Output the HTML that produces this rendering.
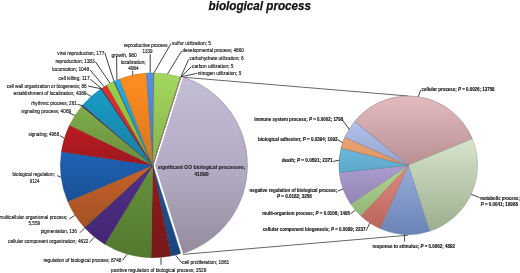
<!DOCTYPE html>
<html><head><meta charset="utf-8"><style>
html,body{margin:0;padding:0;background:#fff;}
svg{display:block;filter:blur(0.35px);}
text{font-family:"Liberation Sans",sans-serif;}
</style></head><body>
<svg width="520" height="273" viewBox="0 0 520 273">
<defs>
<linearGradient id="g0" x1="0" y1="0" x2="0" y2="1"><stop offset="0" stop-color="#215597"/><stop offset="1" stop-color="#1b467b"/></linearGradient>
<linearGradient id="g1" x1="0" y1="0" x2="0" y2="1"><stop offset="0" stop-color="#911d1e"/><stop offset="1" stop-color="#761819"/></linearGradient>
<linearGradient id="g2" x1="0" y1="0" x2="0" y2="1"><stop offset="0" stop-color="#66933a"/><stop offset="1" stop-color="#537830"/></linearGradient>
<linearGradient id="g3" x1="0" y1="0" x2="0" y2="1"><stop offset="0" stop-color="#522e8c"/><stop offset="1" stop-color="#432672"/></linearGradient>
<linearGradient id="g4" x1="0" y1="0" x2="0" y2="1"><stop offset="0" stop-color="#274552"/><stop offset="1" stop-color="#203843"/></linearGradient>
<linearGradient id="g5" x1="0" y1="0" x2="0" y2="1"><stop offset="0" stop-color="#c7632b"/><stop offset="1" stop-color="#a25123"/></linearGradient>
<linearGradient id="g6" x1="0" y1="0" x2="0" y2="1"><stop offset="0" stop-color="#1e62b5"/><stop offset="1" stop-color="#195094"/></linearGradient>
<linearGradient id="g7" x1="0" y1="0" x2="0" y2="1"><stop offset="0" stop-color="#be1c23"/><stop offset="1" stop-color="#9b171c"/></linearGradient>
<linearGradient id="g8" x1="0" y1="0" x2="0" y2="1"><stop offset="0" stop-color="#7fad49"/><stop offset="1" stop-color="#688d3c"/></linearGradient>
<linearGradient id="g9" x1="0" y1="0" x2="0" y2="1"><stop offset="0" stop-color="#413063"/><stop offset="1" stop-color="#352751"/></linearGradient>
<linearGradient id="g10" x1="0" y1="0" x2="0" y2="1"><stop offset="0" stop-color="#1a9cc7"/><stop offset="1" stop-color="#157fa2"/></linearGradient>
<linearGradient id="g11" x1="0" y1="0" x2="0" y2="1"><stop offset="0" stop-color="#724523"/><stop offset="1" stop-color="#5d381c"/></linearGradient>
<linearGradient id="g12" x1="0" y1="0" x2="0" y2="1"><stop offset="0" stop-color="#2d5079"/><stop offset="1" stop-color="#254163"/></linearGradient>
<linearGradient id="g13" x1="0" y1="0" x2="0" y2="1"><stop offset="0" stop-color="#e52d34"/><stop offset="1" stop-color="#bb252a"/></linearGradient>
<linearGradient id="g14" x1="0" y1="0" x2="0" y2="1"><stop offset="0" stop-color="#98d644"/><stop offset="1" stop-color="#7cae37"/></linearGradient>
<linearGradient id="g15" x1="0" y1="0" x2="0" y2="1"><stop offset="0" stop-color="#61508a"/><stop offset="1" stop-color="#4f4171"/></linearGradient>
<linearGradient id="g16" x1="0" y1="0" x2="0" y2="1"><stop offset="0" stop-color="#25ade3"/><stop offset="1" stop-color="#1e8db9"/></linearGradient>
<linearGradient id="g17" x1="0" y1="0" x2="0" y2="1"><stop offset="0" stop-color="#ff8f21"/><stop offset="1" stop-color="#d8741b"/></linearGradient>
<linearGradient id="g18" x1="0" y1="0" x2="0" y2="1"><stop offset="0" stop-color="#5093e5"/><stop offset="1" stop-color="#4178bb"/></linearGradient>
<linearGradient id="g19" x1="0" y1="0" x2="0" y2="1"><stop offset="0" stop-color="#f24545"/><stop offset="1" stop-color="#c53838"/></linearGradient>
<linearGradient id="g20" x1="0" y1="0" x2="0" y2="1"><stop offset="0" stop-color="#a4d85f"/><stop offset="1" stop-color="#86b04d"/></linearGradient>
<linearGradient id="g21" x1="0" y1="0" x2="0" y2="1"><stop offset="0" stop-color="#ad9cd8"/><stop offset="1" stop-color="#8d7fb0"/></linearGradient>
<linearGradient id="g22" x1="0" y1="0" x2="0" y2="1"><stop offset="0" stop-color="#56bee9"/><stop offset="1" stop-color="#469bbe"/></linearGradient>
<linearGradient id="g23" x1="0" y1="0" x2="0" y2="1"><stop offset="0" stop-color="#ffad68"/><stop offset="1" stop-color="#da8d54"/></linearGradient>
<linearGradient id="lavg" x1="0" y1="0" x2="0" y2="1"><stop offset="0" stop-color="#c4bdd6"/><stop offset="0.55" stop-color="#b2aac2"/><stop offset="1" stop-color="#948c9c"/></linearGradient>
<linearGradient id="r0" gradientUnits="userSpaceOnUse" x1="0" y1="96.0" x2="0" y2="234.6"><stop offset="0" stop-color="#e4bcbf"/><stop offset="1" stop-color="#8c6467"/></linearGradient>
<linearGradient id="r1" gradientUnits="userSpaceOnUse" x1="0" y1="96.0" x2="0" y2="234.6"><stop offset="0" stop-color="#f2ffe5"/><stop offset="1" stop-color="#9aab8d"/></linearGradient>
<linearGradient id="r2" gradientUnits="userSpaceOnUse" x1="0" y1="96.0" x2="0" y2="234.6"><stop offset="0" stop-color="#c3daff"/><stop offset="1" stop-color="#6b82b6"/></linearGradient>
<linearGradient id="r3" gradientUnits="userSpaceOnUse" x1="0" y1="96.0" x2="0" y2="234.6"><stop offset="0" stop-color="#ffb8ae"/><stop offset="1" stop-color="#b86056"/></linearGradient>
<linearGradient id="r4" gradientUnits="userSpaceOnUse" x1="0" y1="96.0" x2="0" y2="234.6"><stop offset="0" stop-color="#deffc0"/><stop offset="1" stop-color="#86ab68"/></linearGradient>
<linearGradient id="r5" gradientUnits="userSpaceOnUse" x1="0" y1="96.0" x2="0" y2="234.6"><stop offset="0" stop-color="#d8c9fb"/><stop offset="1" stop-color="#8071a3"/></linearGradient>
<linearGradient id="r6" gradientUnits="userSpaceOnUse" x1="0" y1="96.0" x2="0" y2="234.6"><stop offset="0" stop-color="#8dd8fb"/><stop offset="1" stop-color="#3580a3"/></linearGradient>
<linearGradient id="r7" gradientUnits="userSpaceOnUse" x1="0" y1="96.0" x2="0" y2="234.6"><stop offset="0" stop-color="#ffbf8d"/><stop offset="1" stop-color="#b76735"/></linearGradient>
<linearGradient id="r8" gradientUnits="userSpaceOnUse" x1="0" y1="96.0" x2="0" y2="234.6"><stop offset="0" stop-color="#c2d1fc"/><stop offset="1" stop-color="#6a79a4"/></linearGradient>
</defs>
<rect width="520" height="273" fill="#fff"/>

<text x="208.6" y="9.8" font-size="13.2" font-weight="bold" font-style="italic" fill="#111" stroke="#111" stroke-width="0.25" textLength="102.5" lengthAdjust="spacingAndGlyphs">biological process</text>
<line x1="183.02" y1="77.22" x2="408.20" y2="96.00" stroke="#404040" stroke-width="0.8"/>
<line x1="183.02" y1="254.38" x2="408.20" y2="235.20" stroke="#404040" stroke-width="0.8"/>
<path d="M152.80,165.30 L180.72,253.38 A92.40,92.40 0 0,1 170.68,255.95 Z" fill="url(#g0)" stroke="#173b69" stroke-width="0.4"/>
<path d="M152.80,165.30 L170.68,255.95 A92.40,92.40 0 0,1 151.11,257.68 Z" fill="url(#g1)" stroke="#641415" stroke-width="0.4"/>
<path d="M152.80,165.30 L151.11,257.68 A92.40,92.40 0 0,1 104.81,244.26 Z" fill="url(#g2)" stroke="#466628" stroke-width="0.4"/>
<path d="M152.80,165.30 L104.81,244.26 A92.40,92.40 0 0,1 84.93,228.00 Z" fill="url(#g3)" stroke="#392061" stroke-width="0.4"/>
<path d="M152.80,165.30 L84.93,228.00 A92.40,92.40 0 0,1 84.42,227.44 Z" fill="url(#g4)" stroke="#1b3039" stroke-width="0.4"/>
<path d="M152.80,165.30 L84.42,227.44 A92.40,92.40 0 0,1 67.77,201.47 Z" fill="url(#g5)" stroke="#8a451e" stroke-width="0.4"/>
<path d="M152.80,165.30 L67.77,201.47 A92.40,92.40 0 0,1 61.41,151.64 Z" fill="url(#g6)" stroke="#15447e" stroke-width="0.4"/>
<path d="M152.80,165.30 L61.41,151.64 A92.40,92.40 0 0,1 69.52,125.27 Z" fill="url(#g7)" stroke="#841318" stroke-width="0.4"/>
<path d="M152.80,165.30 L69.52,125.27 A92.40,92.40 0 0,1 81.75,106.23 Z" fill="url(#g8)" stroke="#587833" stroke-width="0.4"/>
<path d="M152.80,165.30 L81.75,106.23 A92.40,92.40 0 0,1 82.69,105.11 Z" fill="url(#g9)" stroke="#2d2145" stroke-width="0.4"/>
<path d="M152.80,165.30 L82.69,105.11 A92.40,92.40 0 0,1 100.89,88.86 Z" fill="url(#g10)" stroke="#126c8a" stroke-width="0.4"/>
<path d="M152.80,165.30 L100.89,88.86 A92.40,92.40 0 0,1 101.28,88.59 Z" fill="url(#g11)" stroke="#4f3018" stroke-width="0.4"/>
<path d="M152.80,165.30 L101.28,88.59 A92.40,92.40 0 0,1 101.83,88.23 Z" fill="url(#g12)" stroke="#1f3754" stroke-width="0.4"/>
<path d="M152.80,165.30 L101.83,88.23 A92.40,92.40 0 0,1 106.80,85.16 Z" fill="url(#g13)" stroke="#9f1f24" stroke-width="0.4"/>
<path d="M152.80,165.30 L106.80,85.16 A92.40,92.40 0 0,1 113.64,81.61 Z" fill="url(#g14)" stroke="#69942f" stroke-width="0.4"/>
<path d="M152.80,165.30 L113.64,81.61 A92.40,92.40 0 0,1 114.54,81.20 Z" fill="url(#g15)" stroke="#433760" stroke-width="0.4"/>
<path d="M152.80,165.30 L114.54,81.20 A92.40,92.40 0 0,1 119.57,79.08 Z" fill="url(#g16)" stroke="#19789d" stroke-width="0.4"/>
<path d="M152.80,165.30 L119.57,79.08 A92.40,92.40 0 0,1 146.49,73.12 Z" fill="url(#g17)" stroke="#b76317" stroke-width="0.4"/>
<path d="M152.80,165.30 L146.49,73.12 A92.40,92.40 0 0,1 153.95,72.91 Z" fill="url(#g18)" stroke="#37669f" stroke-width="0.4"/>
<path d="M152.80,165.30 L153.95,72.91 A92.40,92.40 0 0,1 153.98,72.91 Z" fill="url(#g19)" stroke="#a83030" stroke-width="0.4"/>
<path d="M152.80,165.30 L153.98,72.91 A92.40,92.40 0 0,1 180.64,77.19 Z" fill="url(#g20)" stroke="#729642" stroke-width="0.4"/>
<path d="M152.80,165.30 L180.64,77.19 A92.40,92.40 0 0,1 180.67,77.20 Z" fill="url(#g21)" stroke="#786c96" stroke-width="0.4"/>
<path d="M152.80,165.30 L180.67,77.20 A92.40,92.40 0 0,1 180.70,77.21 Z" fill="url(#g22)" stroke="#3c84a2" stroke-width="0.4"/>
<path d="M152.80,165.30 L180.70,77.21 A92.40,92.40 0 0,1 180.72,77.22 Z" fill="url(#g23)" stroke="#ba7848" stroke-width="0.4"/>
<path d="M155.10,165.30 L183.02,77.22 A92.40,92.40 0 0,1 183.02,253.38 Z" fill="url(#lavg)" stroke="none"/>
<path d="M183.02,77.22 A92.40,92.40 0 0,1 183.02,253.38" fill="none" stroke="#8f89a0" stroke-width="0.6"/>
<path d="M408.20,165.30 L354.55,121.44 A69.30,69.30 0 0,1 472.22,138.78 Z" fill="url(#r0)" stroke="#8a6c6e" stroke-width="0.5"/>
<path d="M408.20,165.30 L472.22,138.78 A69.30,69.30 0 0,1 429.70,231.18 Z" fill="url(#r1)" stroke="#94a18b" stroke-width="0.5"/>
<path d="M408.20,165.30 L429.70,231.18 A69.30,69.30 0 0,1 380.04,228.62 Z" fill="url(#r2)" stroke="#7182aa" stroke-width="0.5"/>
<path d="M408.20,165.30 L380.04,228.62 A69.30,69.30 0 0,1 360.76,215.82 Z" fill="url(#r3)" stroke="#ab6962" stroke-width="0.5"/>
<path d="M408.20,165.30 L360.76,215.82 A69.30,69.30 0 0,1 350.72,204.01 Z" fill="url(#r4)" stroke="#86a16f" stroke-width="0.5"/>
<path d="M408.20,165.30 L350.72,204.01 A69.30,69.30 0 0,1 339.27,172.49 Z" fill="url(#r5)" stroke="#81769b" stroke-width="0.5"/>
<path d="M408.20,165.30 L339.27,172.49 A69.30,69.30 0 0,1 341.08,148.04 Z" fill="url(#r6)" stroke="#49819b" stroke-width="0.5"/>
<path d="M408.20,165.30 L341.08,148.04 A69.30,69.30 0 0,1 344.80,137.32 Z" fill="url(#r7)" stroke="#aa6e49" stroke-width="0.5"/>
<path d="M408.20,165.30 L344.80,137.32 A69.30,69.30 0 0,1 354.55,121.44 Z" fill="url(#r8)" stroke="#707c9c" stroke-width="0.5"/>
<polyline points="150.2,54.2 150.2,72.8" fill="none" stroke="#111" stroke-width="0.8"/>
<polyline points="171.0,43.5 154.0,72.8" fill="none" stroke="#111" stroke-width="0.8"/>
<polyline points="181.6,51.0 167.5,74.0" fill="none" stroke="#111" stroke-width="0.8"/>
<polyline points="188.6,59.4 180.9,76.9" fill="none" stroke="#111" stroke-width="0.8"/>
<polyline points="191.6,66.5 180.9,76.9" fill="none" stroke="#111" stroke-width="0.8"/>
<polyline points="197.3,73.3 180.9,76.9" fill="none" stroke="#111" stroke-width="0.8"/>
<polyline points="104.8,53.0 114.0,81.3" fill="none" stroke="#111" stroke-width="0.8"/>
<polyline points="116.6,56.5 116.9,80.0" fill="none" stroke="#111" stroke-width="0.8"/>
<polyline points="132.7,70.8 132.7,75.0" fill="none" stroke="#111" stroke-width="0.8"/>
<polyline points="95.3,61.5 110.0,83.2" fill="none" stroke="#111" stroke-width="0.8"/>
<polyline points="90.0,69.8 104.1,86.6" fill="none" stroke="#111" stroke-width="0.8"/>
<polyline points="90.3,79.2 101.4,88.4" fill="none" stroke="#111" stroke-width="0.8"/>
<polyline points="88.0,86.0 100.9,88.7" fill="none" stroke="#111" stroke-width="0.8"/>
<polyline points="86.3,93.5 91.1,96.4" fill="none" stroke="#111" stroke-width="0.8"/>
<polyline points="77.3,104.2 82.0,105.7" fill="none" stroke="#111" stroke-width="0.8"/>
<polyline points="69.2,113.0 74.8,115.4" fill="none" stroke="#111" stroke-width="0.8"/>
<polyline points="60.0,135.6 64.2,138.3" fill="none" stroke="#111" stroke-width="0.8"/>
<polyline points="57.0,175.6 60.8,177.2" fill="none" stroke="#111" stroke-width="0.8"/>
<polyline points="69.2,218.8 74.8,215.5" fill="none" stroke="#111" stroke-width="0.8"/>
<polyline points="79.8,232.8 84.5,228.1" fill="none" stroke="#111" stroke-width="0.8"/>
<polyline points="89.6,242.4 94.1,237.3" fill="none" stroke="#111" stroke-width="0.8"/>
<polyline points="122.6,260.2 127.0,254.5" fill="none" stroke="#111" stroke-width="0.8"/>
<polyline points="161.0,264.8 161.0,257.8" fill="none" stroke="#111" stroke-width="0.8"/>
<polyline points="181.7,262.8 175.8,255.3" fill="none" stroke="#111" stroke-width="0.8"/>
<polyline points="420.6,90.2 418.3,96.7" fill="none" stroke="#111" stroke-width="0.8"/>
<polyline points="342.6,120.2 349.1,129.1" fill="none" stroke="#111" stroke-width="0.8"/>
<polyline points="337.8,139.8 342.7,142.6" fill="none" stroke="#111" stroke-width="0.8"/>
<polyline points="333.2,161.4 339.1,160.2" fill="none" stroke="#111" stroke-width="0.8"/>
<polyline points="337.6,191.2 343.1,189.0" fill="none" stroke="#111" stroke-width="0.8"/>
<polyline points="350.6,213.8 355.4,210.2" fill="none" stroke="#111" stroke-width="0.8"/>
<polyline points="366.0,230.8 369.9,223.0" fill="none" stroke="#111" stroke-width="0.8"/>
<polyline points="404.6,241.5 404.6,234.5" fill="none" stroke="#111" stroke-width="0.8"/>
<polyline points="479.6,197.6 471.2,194.3" fill="none" stroke="#111" stroke-width="0.8"/>
<g font-size="6.2" fill="#222" stroke="#222" stroke-width="0.18">
<text x="123.8" y="46.8" textLength="43.8" lengthAdjust="spacingAndGlyphs">reproductive process</text>
<text x="142.5" y="53.4" textLength="10.0" lengthAdjust="spacingAndGlyphs">1339</text>
<text x="172.1" y="44.5" textLength="38.9" lengthAdjust="spacingAndGlyphs">sulfur utilization; 5</text>
<text x="182.5" y="52.2" textLength="61.4" lengthAdjust="spacingAndGlyphs">developmental process; 4860</text>
<text x="189.4" y="59.5" textLength="54.2" lengthAdjust="spacingAndGlyphs">carbohydrate utilization; 6</text>
<text x="192.0" y="67.5" textLength="41.5" lengthAdjust="spacingAndGlyphs">carbon utilization; 5</text>
<text x="197.7" y="75.1" textLength="43.6" lengthAdjust="spacingAndGlyphs">nitrogen utilization; 5</text>
<text x="57.3" y="54.8" textLength="47.0" lengthAdjust="spacingAndGlyphs">viral reproduction, 177</text>
<text x="111.5" y="56.5" textLength="25.2" lengthAdjust="spacingAndGlyphs">growth, 980</text>
<text x="120.8" y="63.8" textLength="24.8" lengthAdjust="spacingAndGlyphs">localization;</text>
<text x="128.3" y="69.8" textLength="10.4" lengthAdjust="spacingAndGlyphs">4964</text>
<text x="55.4" y="62.5" textLength="39.2" lengthAdjust="spacingAndGlyphs">reproduction; 1383</text>
<text x="52.3" y="70.9" textLength="36.9" lengthAdjust="spacingAndGlyphs">locomotion; 1048</text>
<text x="58.6" y="79.9" textLength="31.0" lengthAdjust="spacingAndGlyphs">cell killing; 117</text>
<text x="6.8" y="87.8" textLength="79.8" lengthAdjust="spacingAndGlyphs">cell wall organization or biogenesis; 86</text>
<text x="13.6" y="95.3" textLength="72.9" lengthAdjust="spacingAndGlyphs">establishment of localization; 4389</text>
<text x="31.2" y="104.6" textLength="45.7" lengthAdjust="spacingAndGlyphs">rhythmic process; 261</text>
<text x="21.2" y="113.2" textLength="50.0" lengthAdjust="spacingAndGlyphs">signaling process; 4069</text>
<text x="28.5" y="136.1" textLength="30.7" lengthAdjust="spacingAndGlyphs">signaling; 4968</text>
<text x="12.5" y="176.1" textLength="42.3" lengthAdjust="spacingAndGlyphs">biological regulation;</text>
<text x="29.8" y="182.9" textLength="9.6" lengthAdjust="spacingAndGlyphs">9124</text>
<text x="-0.5" y="219.0" textLength="67.8" lengthAdjust="spacingAndGlyphs">multicellular organismal process;</text>
<text x="28.5" y="225.2" textLength="11.5" lengthAdjust="spacingAndGlyphs">5,559</text>
<text x="40.8" y="233.4" textLength="36.1" lengthAdjust="spacingAndGlyphs">pigmentation, 136</text>
<text x="8.1" y="242.5" textLength="80.4" lengthAdjust="spacingAndGlyphs">cellular component organization; 4622</text>
<text x="43.4" y="261.8" textLength="78.1" lengthAdjust="spacingAndGlyphs">regulation of biological process; 8748</text>
<text x="111.0" y="272.3" textLength="95.3" lengthAdjust="spacingAndGlyphs">positive regulation of biological process; 3529</text>
<text x="182.0" y="263.9" textLength="47.3" lengthAdjust="spacingAndGlyphs">cell proliferation; 1861</text>
</g>
<g font-size="6.2" font-weight="bold" fill="#111" stroke="#111" stroke-width="0.15">
<text x="421.5" y="90.6" textLength="73.1" lengthAdjust="spacingAndGlyphs">cellular process; <tspan font-style="italic">P</tspan> = 0.0026; 13758</text>
<text x="254.2" y="121.3" textLength="89.1" lengthAdjust="spacingAndGlyphs">immune system process; <tspan font-style="italic">P</tspan> = 0.0002; 1798</text>
<text x="258.1" y="140.6" textLength="79.4" lengthAdjust="spacingAndGlyphs">biological adhesion; <tspan font-style="italic">P</tspan> = 0.0394; 1093</text>
<text x="281.7" y="162.3" textLength="51.0" lengthAdjust="spacingAndGlyphs">death; <tspan font-style="italic">P</tspan> = 0.0591; 2371</text>
<text x="249.5" y="192.1" textLength="87.8" lengthAdjust="spacingAndGlyphs">negative regulation of biological process;</text>
<text x="277.0" y="197.8" textLength="34.9" lengthAdjust="spacingAndGlyphs"><tspan font-style="italic">P</tspan> = 0.0182; 3258</text>
<text x="262.2" y="214.5" textLength="87.8" lengthAdjust="spacingAndGlyphs">multi-organism process; <tspan font-style="italic">P</tspan> = 0.0106; 1495</text>
<text x="262.8" y="231.4" textLength="102.6" lengthAdjust="spacingAndGlyphs">cellular component biogenesis; <tspan font-style="italic">P</tspan> = 0.0089; 2237</text>
<text x="372.5" y="247.8" textLength="82.5" lengthAdjust="spacingAndGlyphs">response to stimulus; <tspan font-style="italic">P</tspan> = 0.0062; 4892</text>
<text x="480.3" y="199.6" textLength="39.7" lengthAdjust="spacingAndGlyphs">metabolic process;</text>
<text x="480.7" y="205.7" textLength="37.2" lengthAdjust="spacingAndGlyphs"><tspan font-style="italic">P</tspan> = 0.0041; 10988</text>
</g>
<text x="157.7" y="168.7" font-size="6.0" font-weight="bold" fill="#222" stroke="#222" stroke-width="0.12" textLength="87.5" lengthAdjust="spacingAndGlyphs">significant GO biological processes;</text>
<text x="194.2" y="175.9" font-size="6.0" font-weight="bold" fill="#222" stroke="#222" stroke-width="0.12" textLength="14.5" lengthAdjust="spacingAndGlyphs">41890</text>
</svg>
</body></html>
